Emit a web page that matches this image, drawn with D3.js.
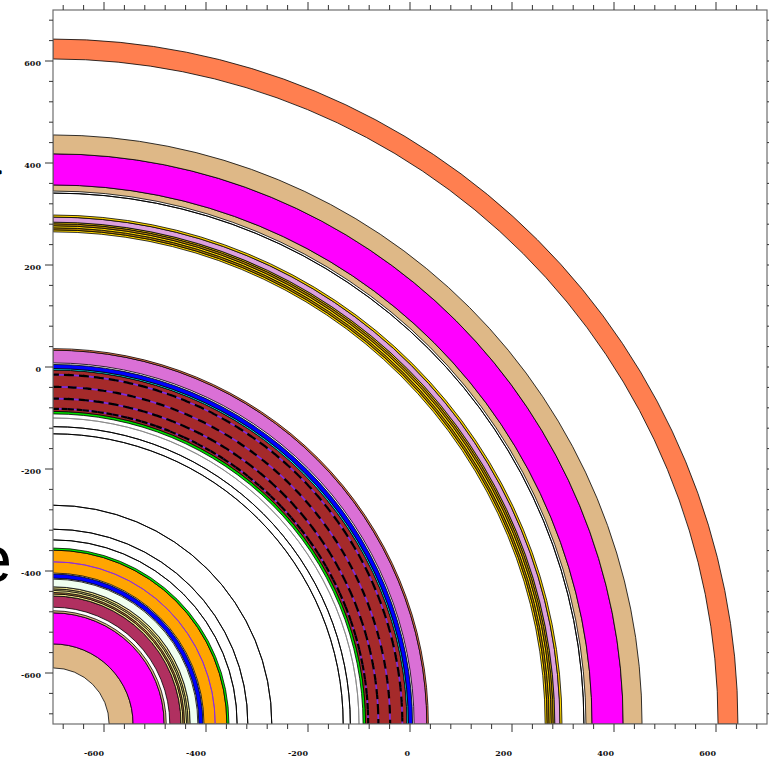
<!DOCTYPE html>
<html>
<head>
<meta charset="utf-8">
<script src="https://cdn.jsdelivr.net/npm/d3@7"></script>
<style>
  html, body { margin: 0; padding: 0; background: #ffffff; }
  svg { display: block; }
</style>
</head>
<body>
<svg id="chart" width="769" height="762"></svg>
<script>
// Concentric layers, quarter section about the lower-left corner (-700, -700).
// Radii are distances from that centre in plot units.
const centre = [-700, -700];

const ringInner = [110, 157, 218, 229, 251, 255, 258, 262, 265, 269, 286, 296, 341, 608, 613, 694, 697, 708, 733, 965, 969, 973, 977, 981, 984, 994, 1045, 1057, 1118, 1304];
const ringOuter = [157, 218, 222, 251, 255, 258, 262, 265, 269, 284, 294, 341, 345, 613, 694, 697, 705, 733, 736, 969, 973, 977, 981, 984, 994, 998, 1057, 1118, 1155, 1343];
const ringFill  = ["#DEB887", "#FF00FF", "#DEB887", "#B03060", "#F0E68C", "#CD853F", "#F0E68C", "#F0E68C", "#F0E68C", "#F0FFF0", "#0000FF", "#FFA500", "#00EE00", "#00DD00", "#A52A2A", "#00FFFF", "#0000FF", "#DA70D6", "#FF7F50", "#FFD700", "#B8860B", "#FFD700", "#B8860B", "#FFD700", "#DDA0DD", "#FFD700", "#DEB887", "#FF00FF", "#DEB887", "#FF7F50"];

// Thin boundary circles drawn on top of the filled layers
const lineRadius = [318, 361, 382, 429, 569, 583, 600, 618, 638, 661, 685, 1041];
const lineColor  = ["#8A2BE2", "#000000", "#000000", "#000000", "#000000", "#000000", "#888888", "#7B2BE2", "#7B2BE2", "#7B2BE2", "#7B2BE2", "#000000"];
const lineDashed = [false, false, false, false, false, false, false, true, true, true, true, false];

const tickValues = [-600, -400, -200, 0, 200, 400, 600];
const tickLabels = ["-600", "-400", "-200", "0", "200", "400", "600"];
const minorStep = 40;

const svg = d3.select("#chart");
const plotLeft = 53, plotRight = 767, plotTop = 10, plotBottom = 724;

const x = d3.scaleLinear().domain([-700, 700]).range([plotLeft, plotRight]);
const y = d3.scaleLinear().domain([-700, 700]).range([plotBottom, plotTop]);
const rpx = r => x(centre[0] + r) - x(centre[0]);

svg.append("defs").append("clipPath").attr("id", "plotClip")
  .append("rect").attr("x", plotLeft).attr("y", plotTop)
  .attr("width", plotRight - plotLeft).attr("height", plotBottom - plotTop);

const plot = svg.append("g").attr("clip-path", "url(#plotClip)")
  .append("g").attr("transform", `translate(${x(centre[0])},${y(centre[1])})`);

const rings = ringInner.map((r0, i) => ({ r0, r1: ringOuter[i], fill: ringFill[i] }));
const arc = d3.arc().startAngle(0).endAngle(Math.PI / 2);

plot.selectAll("path.ring").data(rings).join("path")
  .attr("class", "ring")
  .attr("d", d => arc({ innerRadius: rpx(d.r0), outerRadius: rpx(d.r1) }))
  .attr("fill", d => d.fill)
  .attr("stroke", "#000")
  .attr("stroke-width", 0.8);

const lines = lineRadius.map((r, i) => ({ r, color: lineColor[i], dashed: lineDashed[i] }));

plot.selectAll("path.line").data(lines).join("path")
  .attr("class", "line")
  .attr("d", d => arc({ innerRadius: rpx(d.r), outerRadius: rpx(d.r) }))
  .attr("fill", "none")
  .attr("stroke", d => d.color)
  .attr("stroke-width", d => d.dashed ? 1.6 : 0.9);

// black dashes over the striped brown layer
plot.selectAll("path.dash").data(lines.filter(d => d.dashed)).join("path")
  .attr("class", "dash")
  .attr("d", d => arc({ innerRadius: rpx(d.r), outerRadius: rpx(d.r) }))
  .attr("fill", "none")
  .attr("stroke", "#000")
  .attr("stroke-width", 2.2)
  .attr("stroke-dasharray", "6,9");

// Frame
svg.append("rect")
  .attr("x", plotLeft).attr("y", plotTop)
  .attr("width", plotRight - plotLeft).attr("height", plotBottom - plotTop)
  .attr("fill", "none").attr("stroke", "#6e6e6e").attr("stroke-width", 1.2);

// Ticks on all four sides, pointing outward
const minor = d3.range(-680, 681, minorStep);
const isMajor = v => tickValues.includes(v);
const tickG = svg.append("g").attr("stroke", "#333").attr("stroke-width", 1);

tickG.selectAll("line.bx").data(minor).join("line").attr("class", "bx")
  .attr("x1", d => x(d)).attr("x2", d => x(d))
  .attr("y1", plotBottom).attr("y2", d => plotBottom + (isMajor(d) ? 8 : 5));
tickG.selectAll("line.tx").data(minor).join("line").attr("class", "tx")
  .attr("x1", d => x(d)).attr("x2", d => x(d))
  .attr("y1", plotTop).attr("y2", d => plotTop - (isMajor(d) ? 8 : 5));
tickG.selectAll("line.ly").data(minor).join("line").attr("class", "ly")
  .attr("y1", d => y(d)).attr("y2", d => y(d))
  .attr("x1", plotLeft).attr("x2", d => plotLeft - (isMajor(d) ? 8 : 4));
tickG.selectAll("line.ry").data(minor).join("line").attr("class", "ry")
  .attr("y1", d => y(d)).attr("y2", d => y(d))
  .attr("x1", plotRight).attr("x2", d => plotRight + (isMajor(d) ? 8 : 4));

const labelFont = { family: "DejaVu Serif", size: "8px", weight: "bold" };

svg.append("g").selectAll("text").data(tickValues).join("text")
  .attr("x", d => x(d)).attr("y", 755.5)
  .attr("text-anchor", "end")
  .attr("font-family", labelFont.family).attr("font-size", labelFont.size).attr("font-weight", labelFont.weight)
  .attr("fill", "#111")
  .text((d, i) => tickLabels[i]);

svg.append("g").selectAll("text").data(tickValues).join("text")
  .attr("x", 41).attr("y", d => y(d) + 4.5)
  .attr("text-anchor", "end")
  .attr("font-family", labelFont.family).attr("font-size", labelFont.size).attr("font-weight", labelFont.weight)
  .attr("fill", "#111")
  .text((d, i) => tickLabels[i]);

// Axis title glyphs, mostly off the left edge
svg.append("text")
  .attr("x", 12).attr("y", 582)
  .attr("text-anchor", "end")
  .attr("font-family", "Liberation Sans, Arial, sans-serif")
  .attr("font-size", "67px")
  .attr("fill", "#000")
  .text("e");

svg.append("text")
  .attr("x", 3).attr("y", 182)
  .attr("text-anchor", "end")
  .attr("font-family", "Liberation Sans, Arial, sans-serif")
  .attr("font-size", "30px")
  .attr("fill", "#000")
  .text(">");
</script>
</body>
</html>
